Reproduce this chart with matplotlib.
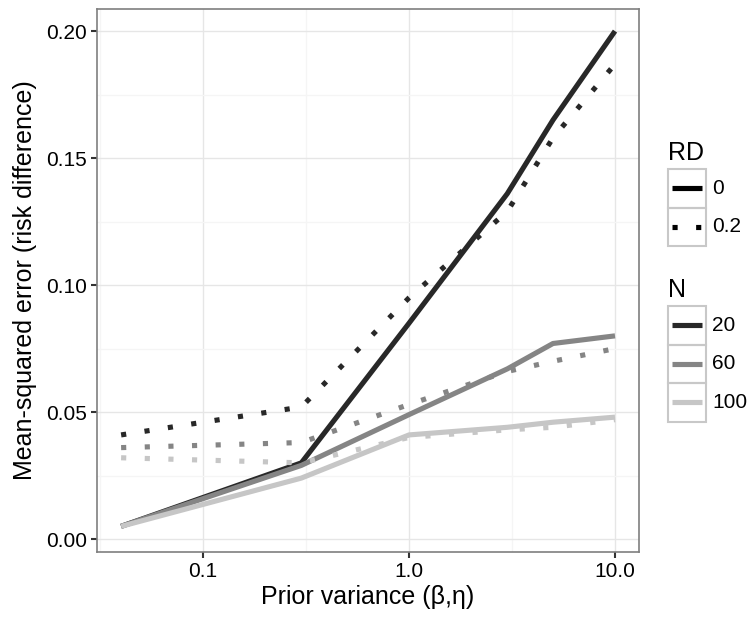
import matplotlib
matplotlib.use("Agg")
import matplotlib.pyplot as plt
from matplotlib.patches import Rectangle

plt.rcParams['font.family'] = ['Liberation Sans', 'DejaVu Sans']

# prior variance values (x) and mean-squared error for each N / RD combination
prior_var = [0.04, 0.3, 1.0, 3.0, 5.0, 10.0]

mse_rd0 = {
    20: [0.005, 0.030, 0.085, 0.136, 0.165, 0.200],
    60: [0.005, 0.029, 0.049, 0.067, 0.077, 0.080],
    100: [0.005, 0.024, 0.041, 0.044, 0.046, 0.048],
}
mse_rd02 = {
    20: [0.041, 0.052, 0.095, 0.129, 0.158, 0.187],
    60: [0.036, 0.038, 0.053, 0.066, 0.070, 0.075],
    100: [0.032, 0.030, 0.040, 0.043, 0.044, 0.047],
}

n_levels = [20, 60, 100]
rd_levels = ['0', '0.2']
n_colors = {20: '#282828', 60: '#858585', 100: '#c6c6c6'}
dotted = (0, (1, 3.6))

W, H = 754, 625
fig = plt.figure(figsize=(W / 100, H / 100), dpi=100)
ax = fig.add_axes([97 / W, 1 - 552 / H, (639 - 97) / W, (552 - 9) / H])

for n in n_levels:
    ax.plot(prior_var, mse_rd0[n], color=n_colors[n], lw=3.7,
            solid_capstyle='butt', zorder=3)
    ax.plot(prior_var, mse_rd02[n], color=n_colors[n], lw=3.7,
            linestyle=dotted, dash_capstyle='butt', zorder=3)

ax.set_xscale('log')
ax.set_xlim(10 ** -1.515, 10 ** 1.1165)
ax.set_ylim(-0.0051, 0.2087)
ax.set_xticks([0.1, 1.0, 10.0])
ax.set_xticklabels(['0.1', '1.0', '10.0'])
ax.set_xticks([10 ** -1.5, 10 ** -0.5, 10 ** 0.5], minor=True)
ax.xaxis.set_minor_formatter(plt.NullFormatter())
ax.set_yticks([0.0, 0.05, 0.10, 0.15, 0.20])
ax.set_yticklabels(['0.00', '0.05', '0.10', '0.15', '0.20'])
ax.set_yticks([0.025, 0.075, 0.125, 0.175], minor=True)

ax.grid(True, which='major', color='#e6e6e6', lw=1.0, zorder=0)
ax.grid(True, which='minor', color='#f5f5f5', lw=1.0, zorder=0)
ax.set_axisbelow(True)
for s in ax.spines.values():
    s.set_color('#7f7f7f')
    s.set_linewidth(1.2)
ax.tick_params(which='major', length=4, width=1.5, color='#333333',
               labelsize=15, labelcolor='black', pad=3)
ax.tick_params(which='minor', length=0)

ax.set_xlabel('Prior variance (\u03b2,\u03b7)', fontsize=18, labelpad=3)
ax.set_ylabel('Mean-squared error (risk difference)', fontsize=18, labelpad=7)

# legends drawn ggplot-style with boxed keys
lax = fig.add_axes([0, 0, 1, 1])
lax.set_xlim(0, W)
lax.set_ylim(H, 0)
lax.axis('off')

box_x, box_w, key_h = 668, 38, 38.5

def draw_legend(title, title_y, top, labels, styles):
    lax.text(box_x, title_y, title, fontsize=18, va='baseline', ha='left')
    for i, (lab, (col, ls)) in enumerate(zip(labels, styles)):
        y0 = top + i * key_h
        lax.add_patch(Rectangle((box_x, y0), box_w, key_h, fill=False,
                                edgecolor='#c8c8c8', lw=1.5))
        lax.plot([box_x + 4, box_x + box_w - 4], [y0 + key_h / 2] * 2,
                 color=col, lw=3.7, linestyle=ls,
                 solid_capstyle='butt', dash_capstyle='butt')
        lax.text(box_x + box_w + 6, y0 + key_h / 2, lab, fontsize=15,
                 va='center', ha='left')

draw_legend('RD', 160, 169, rd_levels,
            [('black', '-'), ('black', (0, (1, 3.6)))])
draw_legend('N', 297, 306, [str(n) for n in n_levels],
            [(n_colors[n], '-') for n in n_levels])

fig.savefig('out.png', dpi=100)
